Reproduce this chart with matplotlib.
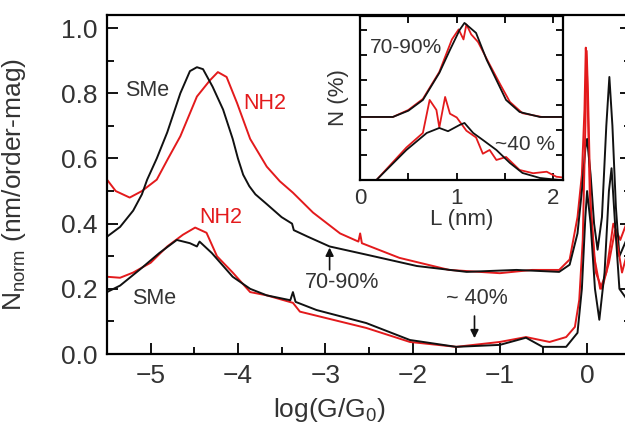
import matplotlib
matplotlib.use("Agg")
import matplotlib.pyplot as plt
from matplotlib.ticker import MultipleLocator, NullFormatter

plt.rcParams['font.family'] = ['Liberation Sans', 'DejaVu Sans']
plt.rcParams['mathtext.default'] = 'regular'

RED = '#e31a1c'
BLK = '#111111'
TXT = '#333333'

# conductance histograms, 70-90% junction-formation set
sme_hi_x = [-5.5, -5.35, -5.2, -5.1, -5.04, -4.93, -4.81, -4.66, -4.55, -4.47, -4.4, -4.29,
            -4.17, -4.06, -4.0, -3.94, -3.87, -3.8, -3.67, -3.5, -3.38, -3.36, -3.2, -2.95,
            -2.53, -1.95, -1.38, -0.81, -0.32, -0.2, -0.11, -0.06, -0.02, 0.0, 0.04, 0.08,
            0.12, 0.17, 0.22, 0.255, 0.29, 0.33, 0.37, 0.45]
sme_hi_y = [0.36, 0.39, 0.44, 0.49, 0.535, 0.60, 0.68, 0.80, 0.868, 0.88, 0.874, 0.82,
            0.75, 0.66, 0.60, 0.55, 0.515, 0.49, 0.46, 0.42, 0.40, 0.38, 0.36, 0.33,
            0.305, 0.27, 0.252, 0.258, 0.252, 0.274, 0.37, 0.5, 0.63, 0.66, 0.55, 0.4,
            0.32, 0.42, 0.7, 0.85, 0.7, 0.45, 0.3, 0.35]
nh2_hi_x = [-5.5, -5.4, -5.24, -5.1, -4.93, -4.8, -4.66, -4.47, -4.32, -4.23, -4.13, -4.01,
            -3.86, -3.67, -3.52, -3.37, -3.14, -2.83, -2.62, -2.6, -2.58, -2.15, -1.58, -1.0,
            -0.63, -0.32, -0.2, -0.11, -0.06, -0.03, -0.015, 0.0, 0.03, 0.08, 0.15, 0.22,
            0.3, 0.38, 0.45]
nh2_hi_y = [0.535, 0.50, 0.48, 0.50, 0.535, 0.60, 0.668, 0.79, 0.84, 0.865, 0.85, 0.77,
            0.66, 0.575, 0.53, 0.495, 0.434, 0.37, 0.345, 0.37, 0.34, 0.295, 0.258, 0.248,
            0.258, 0.258, 0.29, 0.42, 0.55, 0.75, 0.94, 0.85, 0.5, 0.3, 0.2, 0.25,
            0.4, 0.35, 0.4]

# ~40% junction-formation set
sme_lo_x = [-5.5, -5.35, -5.12, -4.9, -4.7, -4.55, -4.47, -4.44, -4.3, -4.06, -3.86, -3.67,
            -3.4, -3.37, -3.34, -3.1, -2.53, -2.03, -1.5, -1.0, -0.7, -0.51, -0.24, -0.11,
            -0.06, -0.02, 0.0, 0.04, 0.09, 0.14, 0.2, 0.25, 0.28, 0.32, 0.37, 0.45]
sme_lo_y = [0.19, 0.21, 0.26, 0.31, 0.35, 0.34, 0.33, 0.345, 0.31, 0.237, 0.20, 0.18,
            0.165, 0.19, 0.16, 0.135, 0.095, 0.043, 0.022, 0.028, 0.05, 0.022, 0.022, 0.065,
            0.2, 0.42, 0.5, 0.4, 0.2, 0.105, 0.25, 0.5, 0.57, 0.4, 0.2, 0.17]
nh2_lo_x = [-5.5, -5.35, -5.2, -5.0, -4.81, -4.63, -4.49, -4.36, -4.24, -4.06, -3.86, -3.67,
            -3.37, -3.29, -2.53, -2.03, -1.5, -1.0, -0.7, -0.43, -0.24, -0.14, -0.09, -0.05,
            -0.02, -0.005, 0.01, 0.04, 0.1, 0.17, 0.25, 0.32, 0.4, 0.45]
nh2_lo_y = [0.237, 0.234, 0.25, 0.28, 0.33, 0.366, 0.388, 0.372, 0.30, 0.25, 0.19, 0.18,
            0.157, 0.13, 0.08, 0.037, 0.022, 0.037, 0.052, 0.037, 0.052, 0.083, 0.166, 0.35,
            0.7, 0.93, 0.8, 0.45, 0.25, 0.2, 0.28, 0.38, 0.25, 0.3]

# plateau length histograms (inset)
len_hi_sme_x = [0.0, 0.34, 0.5, 0.65, 0.82, 0.93, 1.03, 1.08, 1.2, 1.31, 1.41, 1.51, 1.65, 1.86, 2.1]
len_hi_sme_y = [0.0, 0.0, 0.25, 0.68, 1.76, 2.68, 3.48, 3.76, 3.36, 2.28, 1.48, 0.68, 0.2, 0.0, 0.0]
len_hi_nh2_x = [0.0, 0.34, 0.5, 0.65, 0.82, 0.9, 0.95, 1.02, 1.07, 1.1, 1.15, 1.22, 1.34, 1.45, 1.55, 1.68, 1.88, 2.1]
len_hi_nh2_y = [0.0, 0.0, 0.28, 0.72, 1.8, 2.6, 3.1, 3.5, 3.1, 3.7, 3.3, 3.0, 2.1, 1.3, 0.6, 0.15, 0.0, 0.0]
len_lo_sme_x = [0.0, 0.17, 0.48, 0.69, 0.82, 0.91, 1.03, 1.08, 1.17, 1.27, 1.41, 1.55, 1.68, 1.86, 2.06, 2.1]
len_lo_sme_y = [0.0, 0.0, 1.2, 1.88, 2.08, 1.95, 2.2, 2.28, 1.88, 1.6, 1.2, 0.68, 0.28, 0.08, 0.0, 0.0]
len_lo_nh2_x = [0.0, 0.17, 0.48, 0.65, 0.72, 0.79, 0.82, 0.88, 0.93, 1.0, 1.1, 1.2, 1.27, 1.34, 1.41,
                1.51, 1.65, 1.79, 1.93, 2.03, 2.1]
len_lo_nh2_y = [0.0, 0.0, 1.3, 1.88, 3.2, 2.8, 2.1, 3.32, 2.65, 2.5, 1.97, 1.7, 1.05, 1.2, 0.8,
                0.92, 0.4, 0.27, 0.33, 0.13, 0.1]

fig = plt.figure(figsize=(6.25, 4.34), dpi=100)
ax = fig.add_axes([0.1712, 0.1843, 0.838, 0.781])

lw = 1.4
ax.plot(nh2_hi_x, nh2_hi_y, color=RED, lw=lw)
ax.plot(sme_hi_x, sme_hi_y, color=BLK, lw=lw)
ax.plot(nh2_lo_x, nh2_lo_y, color=RED, lw=lw)
ax.plot(sme_lo_x, sme_lo_y, color=BLK, lw=lw)

ax.set_xlim(-5.5, 0.5)
ax.set_ylim(0, 1.04)
ax.xaxis.set_major_locator(MultipleLocator(1))
ax.xaxis.set_minor_locator(MultipleLocator(0.5))
ax.yaxis.set_major_locator(MultipleLocator(0.2))
ax.yaxis.set_minor_locator(MultipleLocator(0.1))
ax.yaxis.set_major_formatter(plt.FormatStrFormatter('%.1f'))
ax.tick_params(which='both', direction='in', top=False, right=True, width=1.3,
               labelsize=19, labelcolor=TXT, pad=7)
ax.tick_params(which='major', length=8)
ax.tick_params(which='minor', length=5)
for s in ax.spines.values():
    s.set_linewidth(1.6)

ax.set_xlabel('log(G/G$_0$)', fontsize=19, color=TXT)
ax.xaxis.set_label_coords(0.425, -0.125)
ax.set_ylabel('N$_{norm}$ (nm/order-mag)', fontsize=19, color=TXT)
ax.yaxis.set_label_coords(-0.15, 0.5)

fs = 15.5
ax.text(-5.29, 0.81, 'SMe', color=TXT, fontsize=fs, va='center')
ax.text(-3.94, 0.77, 'NH2', color=RED, fontsize=fs, va='center')
ax.text(-4.44, 0.42, 'NH2', color=RED, fontsize=fs, va='center')
ax.text(-5.21, 0.17, 'SMe', color=TXT, fontsize=fs, va='center')

ax.annotate('', xy=(-2.95, 0.335), xytext=(-2.95, 0.25),
            arrowprops=dict(arrowstyle='-|>', color=BLK, lw=1.2, mutation_scale=12))
ax.text(-2.81, 0.22, '70-90%', color=TXT, fontsize=fs, ha='center', va='center')
ax.annotate('', xy=(-1.29, 0.04), xytext=(-1.29, 0.125),
            arrowprops=dict(arrowstyle='-|>', color=BLK, lw=1.2, mutation_scale=12))
ax.text(-1.26, 0.17, '~ 40%', color=TXT, fontsize=fs, ha='center', va='center')

# inset: plateau length distributions
ins = fig.add_axes([0.576, 0.5853, 0.325, 0.378])
off = 2.52
ins.plot(len_hi_nh2_x, [v + off for v in len_hi_nh2_y], color=RED, lw=1.3)
ins.plot(len_hi_sme_x, [v + off for v in len_hi_sme_y], color=BLK, lw=1.3)
ins.plot(len_lo_nh2_x, len_lo_nh2_y, color=RED, lw=1.3)
ins.plot(len_lo_sme_x, len_lo_sme_y, color=BLK, lw=1.3)
ins.set_xlim(0, 2.1)
ins.set_ylim(0, 6.56)
ins.xaxis.set_major_locator(MultipleLocator(1))
ins.xaxis.set_minor_locator(MultipleLocator(0.5))
ins.yaxis.set_major_locator(MultipleLocator(1))
ins.yaxis.set_major_formatter(NullFormatter())
ins.tick_params(which='both', direction='in', top=True, right=True, width=1.3, length=5,
                labelsize=16, labelcolor=TXT, pad=6)
for s in ins.spines.values():
    s.set_linewidth(1.6)
ins.set_xlabel('L (nm)', fontsize=16, color=TXT, labelpad=0)
ins.set_ylabel('N (%)', fontsize=16, color=TXT, labelpad=2)
ins.text(0.1, 5.3, '70-90%', color=TXT, fontsize=15, va='center')
ins.text(1.4, 1.4, '~40 %', color=TXT, fontsize=15, va='center')

fig.savefig('out.png', dpi=100)
